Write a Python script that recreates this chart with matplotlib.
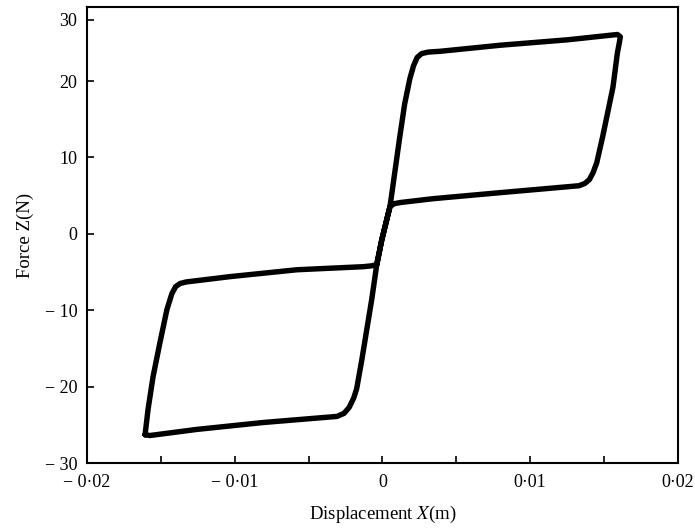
import numpy as np
import matplotlib.pyplot as plt

plt.rcParams['font.family'] = ['Liberation Serif', 'DejaVu Serif']
plt.rcParams['mathtext.fontset'] = 'stix'

# hysteresis loop (x in m, z in N)
# bottom edge of lower loop, left -> right
bottom_x = [-0.01607, -0.01574, -0.01256, -0.00809, -0.00308, -0.00260, -0.00225, -0.00195]
bottom_z = [-26.3, -26.4, -25.6, -24.7, -23.9, -23.5, -22.7, -21.5]
# steep rise through the origin
rise_x = [-0.00175, -0.00140, -0.00118, -0.00073, -0.00039, -0.00005, 0.00051, 0.00114, 0.00150, 0.00185, 0.00210, 0.00235, 0.00265, 0.00310]
rise_z = [-20.3, -16.5, -13.9, -8.6, -4.05, -0.8, 3.6, 12.3, 17.0, 20.3, 22.0, 23.1, 23.6, 23.8]
# top edge of upper loop
top_x = [0.0039, 0.0080, 0.0125, 0.0154, 0.0159, 0.0161]
top_z = [23.9, 24.7, 25.4, 26.0, 26.1, 25.8]
# right edge going down, then lower side of upper loop going left
right_x = [0.0160, 0.0159, 0.0156, 0.0149, 0.0145, 0.01425, 0.0140, 0.0137, 0.0133, 0.0080, 0.0034, 0.0012, 0.0008, 0.00051]
right_z = [24.7, 23.7, 19.2, 12.7, 9.3, 8.0, 7.1, 6.6, 6.3, 5.4, 4.6, 4.1, 3.95, 3.6]
# down the centre, upper side of lower loop going left, left edge down
left_x = [-0.00005, -0.00039, -0.00080, -0.00132, -0.00579, -0.01032, -0.0133, -0.0137, -0.0140, -0.01425, -0.01459, -0.01506, -0.01553, -0.01587, -0.01607]
left_z = [-0.8, -4.05, -4.2, -4.3, -4.7, -5.6, -6.3, -6.5, -6.9, -7.8, -9.9, -14.2, -18.7, -23.0, -26.3]

x = np.concatenate([bottom_x, rise_x, top_x, right_x, left_x])
z = np.concatenate([bottom_z, rise_z, top_z, right_z, left_z])

xticks = [-0.02, -0.01, 0, 0.01, 0.02]
xticklabels = ['\u2212 0\u00b702', '\u2212 0\u00b701', '0', '0\u00b701', '0\u00b702']
yticks = [-30, -20, -10, 0, 10, 20, 28]
yticklabels = ['\u2212 30', '\u2212 20', '\u2212 10', '0', '10', '20', '30']

fig = plt.figure(figsize=(6.95, 5.30), dpi=100)
ax = fig.add_axes([0.1252, 0.1264, 0.9755 - 0.1252, 0.9868 - 0.1264])

ax.plot(x, z, color='black', lw=3.9, solid_joinstyle='round', solid_capstyle='round')

ax.set_xlim(-0.02, 0.02)
ax.set_ylim(-30, 29.7)
ax.set_xticks(xticks)
ax.set_xticklabels(xticklabels)
ax.set_xticks([-0.015, -0.005, 0.005, 0.015], minor=True)
ax.set_yticks(yticks)
ax.set_yticklabels(yticklabels)

ax.tick_params(which='both', direction='in', length=5, width=1.2, labelsize=13)
ax.tick_params(axis='x', pad=8)
ax.tick_params(axis='y', pad=7)
for s in ax.spines.values():
    s.set_linewidth(1.5)

ax.set_xlabel('Displacement $X$(m)', fontsize=13.5, labelpad=9)
ax.set_ylabel('Force Z(N)', fontsize=13.5, labelpad=8)

fig.savefig('out.png', dpi=100)
